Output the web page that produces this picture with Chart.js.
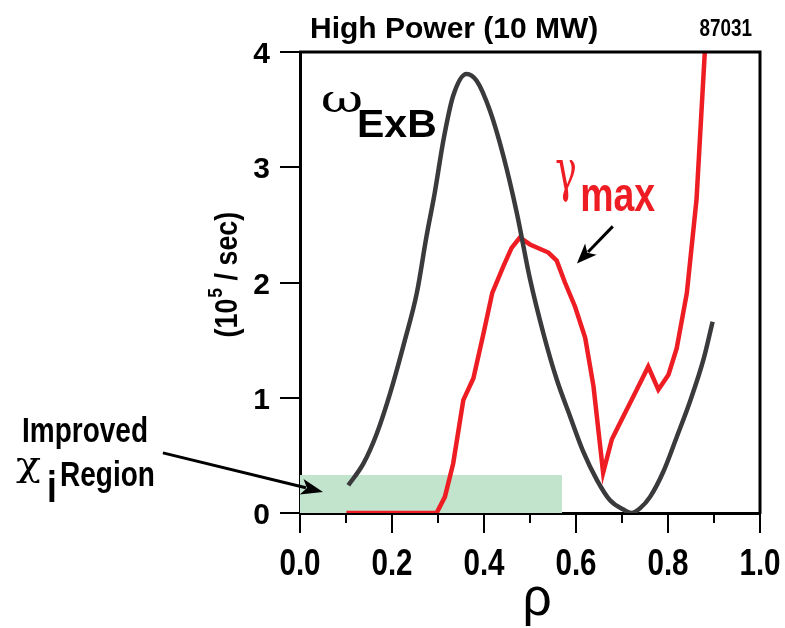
<!DOCTYPE html>
<html lang="en">
  <head>
    <meta charset="UTF-8" />
    <script src="https://cdn.jsdelivr.net/npm/chart.js@4.4.0/dist/chart.umd.min.js"></script>
    <title>High Power (10 MW)</title>
    <style>
      body {
        margin: 0;
        padding: 0;
        background: white;
      }
    </style>
  </head>
  <body>
    <canvas id="chart" width="785" height="628"></canvas>
    <script>
      // omega_ExB (black) and gamma_max (red), units 10^5 / sec
      const rhoOmega = [0.105, 0.138, 0.167, 0.196, 0.228, 0.254, 0.275, 0.293, 0.312, 0.333, 0.362, 0.384, 0.413, 0.442, 0.471, 0.5, 0.529, 0.558, 0.587, 0.616, 0.645, 0.674, 0.703, 0.721, 0.739, 0.761, 0.79, 0.819, 0.848, 0.877, 0.897]
      const omegaExB = [0.24, 0.43, 0.69, 1.04, 1.5, 1.91, 2.4, 2.78, 3.24, 3.62, 3.81, 3.75, 3.49, 3.1, 2.61, 2.03, 1.56, 1.16, 0.84, 0.53, 0.29, 0.11, 0.03, 0.0, 0.04, 0.14, 0.36, 0.66, 0.97, 1.33, 1.66]
      const rhoGamma = [0.101, 0.297, 0.315, 0.333, 0.355, 0.377, 0.399, 0.418, 0.442, 0.46, 0.478, 0.5, 0.54, 0.558, 0.576, 0.598, 0.62, 0.638, 0.659, 0.678, 0.703, 0.732, 0.757, 0.779, 0.801, 0.819, 0.841, 0.862, 0.88]
      const gammaMax = [0.0, 0.0, 0.14, 0.43, 0.98, 1.17, 1.56, 1.91, 2.14, 2.3, 2.39, 2.33, 2.26, 2.19, 2.0, 1.79, 1.52, 1.1, 0.35, 0.64, 0.84, 1.07, 1.27, 1.07, 1.2, 1.43, 1.91, 2.72, 4.0]
      // improved chi_i region
      const regionRho = [0, 0.57]
      const regionTop = 0.33

      const xTickValues = [0, 0.2, 0.4, 0.6, 0.8, 1.0]
      const xTickLabels = ['0.0', '0.2', '0.4', '0.6', '0.8', '1.0']
      const xMinorTicks = [0.1, 0.3, 0.5, 0.7, 0.9]
      const yTickValues = [0, 1, 2, 3, 4]
      const yTickLabels = ['0', '1', '2', '3', '4']

      const SANS = '"Liberation Sans", Arial, sans-serif'
      const GREEK = '"DejaVu Serif", serif'

      const toPoints = (xs, ys) => xs.map((x, i) => ({ x: x, y: ys[i] }))

      const text = (ctx, s, x, y, font, color, sx, align) => {
        ctx.save()
        ctx.font = font
        ctx.fillStyle = color
        ctx.textAlign = align || 'left'
        ctx.textBaseline = 'alphabetic'
        ctx.translate(x, y)
        ctx.scale(sx, 1)
        ctx.fillText(s, 0, 0)
        ctx.restore()
      }

      const arrow = (ctx, x1, y1, x2, y2, head, half) => {
        const a = Math.atan2(y2 - y1, x2 - x1)
        ctx.save()
        ctx.strokeStyle = '#000'
        ctx.fillStyle = '#000'
        ctx.lineWidth = 3
        ctx.beginPath()
        ctx.moveTo(x1, y1)
        ctx.lineTo(x2 - head * 0.8 * Math.cos(a), y2 - head * 0.8 * Math.sin(a))
        ctx.stroke()
        ctx.beginPath()
        ctx.moveTo(x2, y2)
        ctx.lineTo(x2 - head * Math.cos(a) + half * Math.sin(a), y2 - head * Math.sin(a) - half * Math.cos(a))
        ctx.lineTo(x2 - head * 0.75 * Math.cos(a), y2 - head * 0.75 * Math.sin(a))
        ctx.lineTo(x2 - head * Math.cos(a) - half * Math.sin(a), y2 - head * Math.sin(a) + half * Math.cos(a))
        ctx.closePath()
        ctx.fill()
        ctx.restore()
      }

      const decorations = {
        id: 'decorations',
        afterDraw(chart) {
          const ctx = chart.ctx
          const xs = chart.scales.x
          const ys = chart.scales.y
          const a = chart.chartArea
          const px = (v) => xs.getPixelForValue(v)
          const py = (v) => ys.getPixelForValue(v)

          // frame top and right
          ctx.save()
          ctx.strokeStyle = '#000'
          ctx.lineWidth = 3
          ctx.beginPath()
          ctx.moveTo(a.left - 1, a.top)
          ctx.lineTo(a.right, a.top)
          ctx.lineTo(a.right, a.bottom + 1)
          ctx.stroke()

          // minor x ticks
          ctx.lineWidth = 2
          xMinorTicks.forEach((v) => {
            ctx.beginPath()
            ctx.moveTo(px(v), a.bottom)
            ctx.lineTo(px(v), a.bottom + 10)
            ctx.stroke()
          })
          ctx.restore()

          // tick labels
          xTickValues.forEach((v, i) => {
            text(ctx, xTickLabels[i], px(v), a.bottom + 62, 'bold 37px ' + SANS, '#000', 0.8, 'center')
          })
          yTickValues.forEach((v, i) => {
            text(ctx, yTickLabels[i], 270, py(v) + 11, 'bold 30px ' + SANS, '#000', 1, 'right')
          })

          // axis titles
          text(ctx, 'ρ', 537, 615, '54px ' + SANS, '#000', 0.95, 'center')
          ctx.save()
          ctx.translate(237, 275)
          ctx.rotate(-Math.PI / 2)
          ctx.scale(0.84, 1)
          const p1 = '(10'
          const p2 = ' / sec)'
          ctx.font = 'bold 32px ' + SANS
          const w1 = ctx.measureText(p1).width
          const w3 = ctx.measureText(p2).width
          ctx.font = 'bold 21px ' + SANS
          const w2 = ctx.measureText('5').width
          let x0 = -(w1 + w2 + w3) / 2
          ctx.fillStyle = '#000'
          ctx.textBaseline = 'alphabetic'
          ctx.font = 'bold 32px ' + SANS
          ctx.fillText(p1, x0, 0)
          ctx.font = 'bold 21px ' + SANS
          ctx.fillText('5', x0 + w1 + 1, -15)
          ctx.font = 'bold 32px ' + SANS
          ctx.fillText(p2, x0 + w1 + w2 + 1, 0)
          ctx.restore()

          // titles
          text(ctx, 'High Power (10 MW)', 310, 38, 'bold 30px ' + SANS, '#000', 1.0)
          text(ctx, '87031', 752, 36, 'bold 23px ' + SANS, '#000', 0.82, 'right')

          // curve labels
          text(ctx, 'ω', px(0.045), py(3.478), '40px ' + GREEK, '#000', 1.3)
          text(ctx, 'ExB', px(0.124), py(3.261), 'bold 39px ' + SANS, '#000', 1.05)
          text(ctx, 'γ', px(0.555), py(2.8), '58px ' + GREEK, '#ee1d24', 0.62)
          text(ctx, 'max', px(0.609), py(2.617), 'bold 48px ' + SANS, '#ee1d24', 0.78)
          arrow(ctx, px(0.68), py(2.487), px(0.602), py(2.165), 20, 8)

          // improved region label
          text(ctx, 'Improved', 22, 442, 'bold 35px ' + SANS, '#000', 0.8)
          text(ctx, 'χ', 16, 476, '33px ' + GREEK, '#000', 1.25)
          text(ctx, 'i', 47, 502, 'bold 44px ' + SANS, '#000', 0.8)
          text(ctx, 'Region', 60, 486, 'bold 35px ' + SANS, '#000', 0.8)
          arrow(ctx, px(-0.298), py(0.522), px(0.05), py(0.183), 22, 8)
        },
      }

      const chart = new Chart(document.getElementById('chart').getContext('2d'), {
        type: 'line',
        data: {
          datasets: [
            {
              label: 'omegaExB',
              data: toPoints(rhoOmega, omegaExB),
              borderColor: '#3a3a3c',
              borderWidth: 4.5,
              pointRadius: 0,
              cubicInterpolationMode: 'monotone',
              fill: false,
              order: 0,
            },
            {
              label: 'gammaMax',
              data: toPoints(rhoGamma, gammaMax),
              borderColor: '#ee1d24',
              borderWidth: 4.5,
              pointRadius: 0,
              tension: 0,
              fill: false,
              order: 1,
            },
            {
              label: 'region',
              data: toPoints(regionRho, [regionTop, regionTop]),
              borderWidth: 0,
              borderColor: 'rgba(0,0,0,0)',
              backgroundColor: '#c2e3cc',
              pointRadius: 0,
              fill: 'origin',
              order: 5,
            },
          ],
        },
        options: {
          responsive: false,
          animation: false,
          layout: { padding: { left: 0, top: 52, right: 25, bottom: 0 } },
          plugins: {
            legend: { display: false },
            tooltip: { enabled: false },
          },
          scales: {
            x: {
              type: 'linear',
              min: 0,
              max: 1,
              ticks: { display: false, stepSize: 0.2 },
              grid: {
                drawOnChartArea: false,
                tickLength: 20,
                color: '#000',
                lineWidth: 2,
              },
              border: { display: true, color: '#000', width: 3 },
              afterFit: (axis) => {
                axis.height = 115
              },
            },
            y: {
              min: 0,
              max: 4,
              ticks: { display: false, stepSize: 1 },
              grid: {
                drawOnChartArea: false,
                tickLength: 20,
                color: '#000',
                lineWidth: 2,
              },
              border: { display: true, color: '#000', width: 3 },
              afterFit: (axis) => {
                axis.width = 300
              },
            },
          },
        },
        plugins: [decorations],
      })
    </script>
  </body>
</html>
